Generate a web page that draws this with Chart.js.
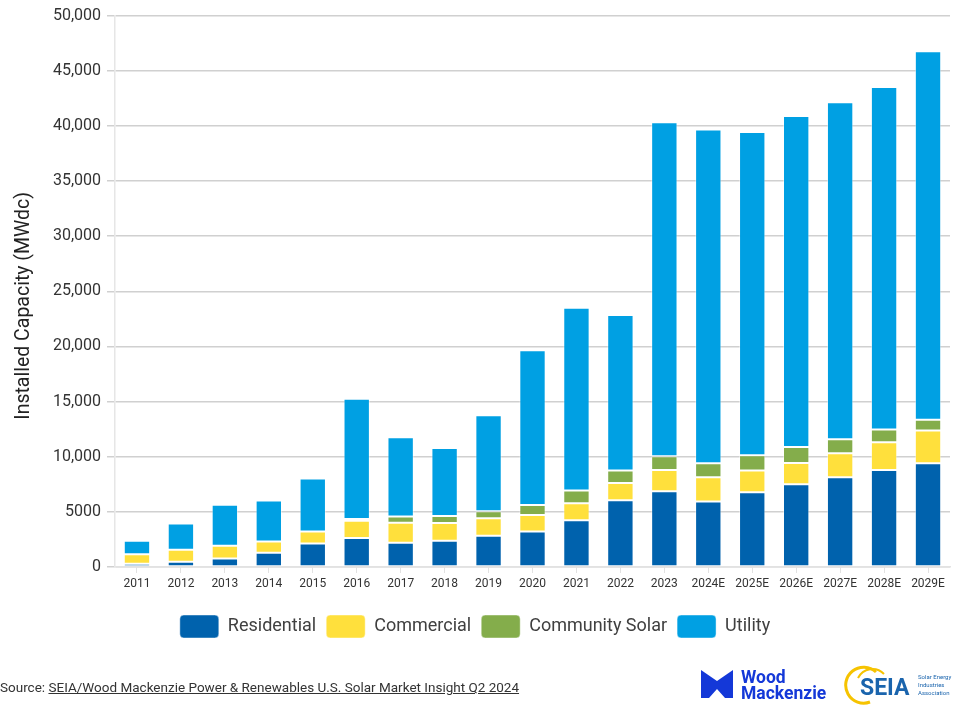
<!DOCTYPE html>
<html>
<head>
<meta charset="utf-8">
<script src="https://cdn.jsdelivr.net/npm/chart.js@4.4.1/dist/chart.umd.min.js"></script>
<style>
    body { margin: 0; background: #fff; font-family: Roboto, sans-serif; }
    #wrap { position: relative; width: 954px; height: 705px; }
    #fuente { position: absolute; left: 0; top: 679px; font-size: 13.5px; color: #333; }
    #fuente span { text-decoration: underline; }
    #logos { position: absolute; left: 698px; top: 664px; }
</style>
</head>
<body>
<div id="wrap">
    <canvas id="graficoSolar"></canvas>
    <div id="fuente">Source: <span>SEIA/Wood Mackenzie Power &amp; Renewables U.S. Solar Market Insight Q2 2024</span></div>
    <svg id="logos" width="256" height="41" viewBox="0 0 256 41">
        <polygon points="3,6 19,17 35,6 35,34 27,34 19,25 11,34 3,34" fill="#1438d8"/>
        <text x="43" y="19" font-family="Roboto" font-weight="bold" font-size="17.5" fill="#1438d8">Wood</text>
        <text x="43" y="35" font-family="Roboto" font-weight="bold" font-size="17.5" fill="#1438d8">Mackenzie</text>
        <path d="M 178 8 A 18 18 0 1 0 172 38" fill="none" stroke="#f6c300" stroke-width="3"/>
        <path d="M 160 14 A 16 16 0 0 1 186 10" fill="none" stroke="#f6c300" stroke-width="2"/>
        <text x="162" y="31" font-family="Roboto" font-weight="bold" font-size="23" fill="#1a64ad">SEIA</text>
        <text x="220" y="15" font-family="Roboto" font-size="6" fill="#1a64ad">Solar Energy</text>
        <text x="220" y="23" font-family="Roboto" font-size="6" fill="#1a64ad">Industries</text>
        <text x="220" y="31" font-family="Roboto" font-size="6" fill="#1a64ad">Association</text>
    </svg>
</div>
<script>
    // Datos (MWdc)
    const anios = ['2011', '2012', '2013', '2014', '2015', '2016', '2017', '2018', '2019', '2020',
        '2021', '2022', '2023', '2024E', '2025E', '2026E', '2027E', '2028E', '2029E'];
    const residencial = [300, 470, 770, 1290, 2140, 2620, 2200, 2380, 2840, 3230,
        4230, 6050, 6860, 5930, 6770, 7500, 8140, 8800, 9410];
    const comercial = [860, 1090, 1160, 1030, 1090, 1580, 1820, 1600, 1570, 1480,
        1540, 1570, 1940, 2210, 1980, 1940, 2180, 2520, 2970];
    const comunitaria = [0, 0, 0, 0, 0, 150, 570, 640, 640, 910,
        1160, 1130, 1250, 1270, 1390, 1450, 1270, 1150, 970];
    const utilidad = [1220, 2390, 3720, 3700, 4790, 10900, 7180, 6180, 8720, 14030,
        16570, 14110, 30270, 30270, 29300, 30000, 30550, 31060, 33420];
    const marcasY = [0, 5000, 10000, 15000, 20000, 25000, 30000, 35000, 40000, 45000, 50000];

    function serie(nombre, datos, color) {
        return {
            label: nombre,
            data: datos,
            backgroundColor: color,
            borderColor: 'rgba(255,255,255,0.45)',
            borderWidth: 1,
            borderSkipped: false,
            barPercentage: 0.6,
            categoryPercentage: 1
        };
    }

    const ctx = document.getElementById('graficoSolar').getContext('2d');
    new Chart(ctx, {
        type: 'bar',
        data: {
            labels: anios,
            datasets: [
                serie('Residential', residencial, '#0062ad'),
                serie('Commercial', comercial, '#ffe03c'),
                serie('Community Solar', comunitaria, '#84ad4b'),
                serie('Utility', utilidad, '#00a0e3')
            ]
        },
        options: {
            responsive: true,
            maintainAspectRatio: false,
            animation: false,
            layout: { padding: { top: 8, right: 4, bottom: 57, left: 0 } },
            plugins: {
                tooltip: { enabled: false },
                legend: {
                    position: 'bottom',
                    labels: {
                        boxWidth: 39,
                        boxHeight: 23,
                        useBorderRadius: true,
                        borderRadius: 4,
                        padding: 10,
                        color: '#404040',
                        font: { family: 'Roboto', size: 18 }
                    }
                }
            },
            scales: {
                x: {
                    stacked: true,
                    afterFit: function (scale) { scale.height = 38; },
                    grid: { display: true, drawOnChartArea: false, offset: false, tickLength: 6, color: '#e2e2e2' },
                    border: { color: '#e2e2e2', width: 1.5 },
                    ticks: { color: '#333', padding: 4, font: { family: 'Roboto', size: 12 } }
                },
                y: {
                    stacked: true,
                    min: 0,
                    max: 50000,
                    afterFit: function (scale) { scale.width = 115; },
                    afterBuildTicks: function (scale) { scale.ticks = marcasY.map(v => ({ value: v })); },
                    grid: { color: '#d0d0d0', lineWidth: 1.5, tickLength: 8 },
                    border: { color: '#e6e6e6', width: 1.5 },
                    title: {
                        display: true,
                        text: 'Installed Capacity (MWdc)      ',
                        color: '#222',
                        font: { family: 'Roboto', size: 19.5 },
                        padding: { top: 12, bottom: 4 }
                    },
                    ticks: {
                        color: '#333',
                        padding: 6,
                        font: { family: 'Roboto', size: 16 },
                        callback: function (v) { return v < 10000 ? String(v) : v.toLocaleString('en-US'); }
                    }
                }
            }
        }
    });
</script>
</body>
</html>
